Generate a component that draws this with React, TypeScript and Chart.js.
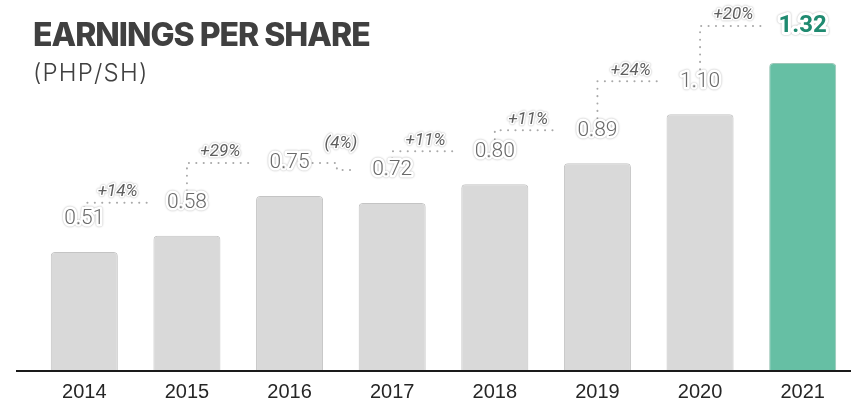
import React, { useEffect, useRef } from "react";
import { Chart, registerables } from "chart.js";

Chart.register(...registerables);

const years = ["2014", "2015", "2016", "2017", "2018", "2019", "2020", "2021"];
const eps = [0.51, 0.58, 0.75, 0.72, 0.8, 0.89, 1.1, 1.32];
const epsLabels = ["0.51", "0.58", "0.75", "0.72", "0.80", "0.89", "1.10", "1.32"];
const growthLabels = ["+14%", "+29%", "(4%)", "+11%", "+11%", "+24%", "+20%"];

const GRAY = "#d9d9d9";
const TEAL = "#66bfa4";

function haloText(ctx: CanvasRenderingContext2D, text: string, x: number, y: number, font: string, color: string, halo = 5) {
  ctx.save();
  ctx.setLineDash([]);
  ctx.font = font;
  ctx.textAlign = "center";
  ctx.textBaseline = "middle";
  ctx.lineJoin = "round";
  ctx.save();
  ctx.shadowColor = "rgba(0,0,0,0.35)";
  ctx.shadowBlur = 2;
  ctx.strokeStyle = "#ffffff";
  ctx.lineWidth = halo;
  ctx.strokeText(text, x, y);
  ctx.restore();
  ctx.fillStyle = color;
  ctx.fillText(text, x, y);
  ctx.restore();
}

const annotPlugin = {
  id: "annot",
  afterDatasetsDraw(chart: any) {
    const ctx: CanvasRenderingContext2D = chart.ctx;
    const meta = chart.getDatasetMeta(0);
    const yScale = chart.scales.y;
    const base = yScale.getPixelForValue(0);
    const last = meta.data.length - 1;

    ctx.save();
    ctx.strokeStyle = "#1a1a1a";
    ctx.lineWidth = 2;
    ctx.beginPath();
    ctx.moveTo(16, base);
    ctx.lineTo(chart.width, base);
    ctx.stroke();
    ctx.restore();

    const pts = meta.data.map((el: any, i: number) => ({ x: el.x, y: el.y - (i === last ? 37 : 33) }));

    // connectors
    ctx.save();
    ctx.strokeStyle = "#a9a9a9";
    ctx.lineWidth = 2;
    ctx.lineCap = "round";
    ctx.setLineDash([0.1, 7.3]);
    const textPos: { x: number; y: number }[] = [];
    for (let i = 0; i < pts.length - 1; i++) {
      const a = pts[i];
      const b = pts[i + 1];
      ctx.beginPath();
      if (eps[i + 1] >= eps[i]) {
        const endX = b.x - 40;
        ctx.moveTo(a.x, a.y - 12);
        ctx.lineTo(a.x, b.y);
        ctx.lineTo(endX, b.y);
        textPos.push({ x: (a.x + endX) / 2 + 2, y: b.y - 11 });
      } else {
        const sx = a.x + 23;
        const ex = b.x - 35;
        const mx = (sx + ex) / 2 + 2;
        ctx.moveTo(sx, a.y);
        ctx.lineTo(mx, a.y);
        ctx.lineTo(mx, b.y);
        ctx.lineTo(ex, b.y);
        textPos.push({ x: (sx + ex) / 2 + 6, y: a.y - 19 });
      }
      ctx.stroke();
    }
    ctx.restore();

    // value labels
    pts.forEach((p: any, i: number) => {
      if (i === last) {
        haloText(ctx, epsLabels[i], p.x, p.y, "700 24px Roboto", "#1f8a70", 6);
      } else {
        haloText(ctx, epsLabels[i], p.x, p.y, "300 21px Roboto", "#6a6a6a", 5);
      }
    });

    // growth labels
    textPos.forEach((p, i) => {
      haloText(ctx, growthLabels[i], p.x, p.y, "italic 400 17px Roboto", "#5e5e5e", 3);
    });
  },
};

export default function App() {
  const ref = useRef<HTMLCanvasElement | null>(null);

  useEffect(() => {
    document.body.style.margin = "0";
    if (!ref.current) return;
    const chart = new Chart(ref.current, {
      type: "bar",
      data: {
        labels: years,
        datasets: [
          {
            data: eps,
            backgroundColor: eps.map((_, i) => (i === eps.length - 1 ? TEAL : GRAY)),
            borderColor: eps.map((_, i) => (i === eps.length - 1 ? "#9cc7b8" : "#c4c4c4")),
            borderWidth: 1,
            borderSkipped: "bottom",
            borderRadius: 4,
            barPercentage: 0.653,
            categoryPercentage: 1,
          },
        ],
      },
      options: {
        responsive: false,
        animation: false,
        devicePixelRatio: 1,
        layout: { padding: { left: 33, right: 1, top: 21, bottom: -10 } },
        plugins: {
          legend: { display: false },
          tooltip: { enabled: false },
          title: { display: false },
        },
        scales: {
          x: {
            grid: { display: false, drawTicks: false },
            border: { display: false },
            ticks: {
              color: "#262626",
              font: { family: "'Liberation Sans', Arial, sans-serif", size: 20, lineHeight: 1.1 },
              padding: 10,
              maxRotation: 0,
              autoSkip: false,
            },
          },
          y: { display: false, min: 0, max: 1.5 },
        },
      },
      plugins: [annotPlugin],
    });
    return () => chart.destroy();
  }, []);

  return (
    <div style={{ position: "fixed", left: 0, top: 0, width: 851, height: 403, overflow: "hidden", background: "#fff" }}>
      <canvas ref={ref} width={855} height={403} style={{ display: "block", width: 855, height: 403 }} />
      <div
        style={{
          position: "absolute",
          left: 33,
          top: 19,
          fontFamily: "Inter, 'Open Sans', sans-serif",
          fontWeight: 800,
          fontSize: 32,
          lineHeight: "32px",
          letterSpacing: "-1px",
          color: "#404040",
          whiteSpace: "nowrap",
        }}
      >
        EARNINGS PER SHARE
      </div>
      <div
        style={{
          position: "absolute",
          left: 33,
          top: 61,
          fontFamily: "Inter, 'Open Sans', sans-serif",
          fontWeight: 300,
          fontSize: 24,
          lineHeight: "24px",
          letterSpacing: "1.2px",
          color: "#404040",
          whiteSpace: "nowrap",
        }}
      >
        (PHP/SH)
      </div>
    </div>
  );
}
